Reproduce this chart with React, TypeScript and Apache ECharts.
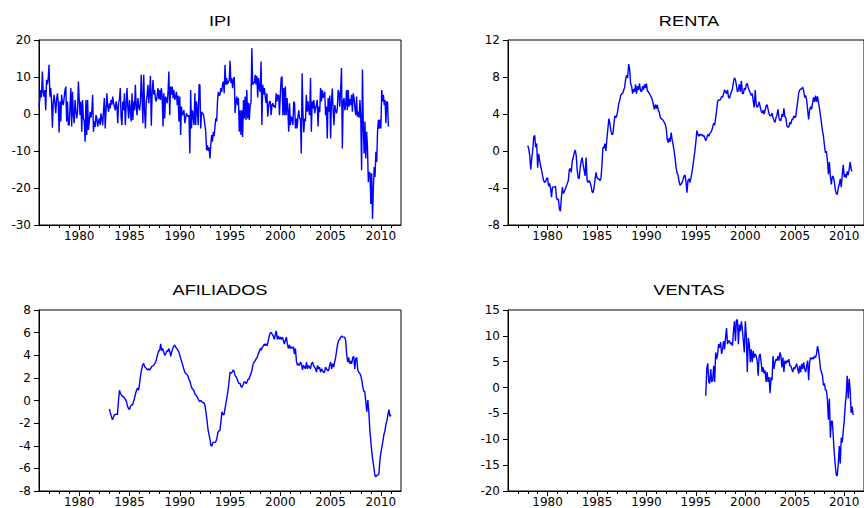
import React, { useEffect, useRef } from "react";
import * as echarts from "echarts";

// IPI: monthly values starting January 1976
const ipiStart = 1976;
const ipiStep = 1 / 12;
const ipi = [
  2, 4, 6.5, 4.5, 11.5, 6, 4.7, 6.5, 1, 9.2, 8, 9.7,
  13.3, 4.7, 7, 3.4, -3.7, 2.9, 5.2, 3, 0.2, 4, 5.6, 3,
  -5, 3.4, -2, 5.2, 3, 2.4, 4.3, 6.5, 7.4, -2, 3.4, -3,
  -3, 2, 7, -3.4, 6, -0.3, -2.5, 3.8, 1, -1.2, 0.6, 8.8,
  4, -0.3, 3.4, -4.8, 3.8, -1.2, -2, -7.5, 3.8, -5.7, 3.8, -4.3,
  -2, 0.6, -1, 0.6, 5.2, -4.8, -2, -3.5, -0.3, -1, -3.4, -2,
  -1.2, -3, 0.2, -1.2, -3, 1, 4.3, -3.9, 1, 5.6, 2, 0.6,
  2.9, 1.5, 3.8, 2.5, 4.7, 3, 2, 1, 3.4, 2, -2.5, 3,
  4, 7, -1, -3, 3.4, 1, 5.6, -3, 2, 7, 2, -1.2,
  3.8, 1, -2, 5.6, -1.6, 3.4, 1, 7.9, 2, -0.3, 4.3, 2,
  1, 3, 10.6, 5, -2.5, 10.6, 1, -3.9, 3.4, 5, 7.9, 2.9,
  6, 10.3, -3.2, 5.6, 9.2, 5.2, 6.5, 4, 3.4, 5, 7, 4,
  6.5, 3.8, 7, 4.7, -3.4, 5.6, -1.2, 4.7, 4, 2.9, 6, 11.5,
  -0.3, 7.4, 5.2, 7.4, 4.3, 6.5, 3.8, 4.7, 6, 2.4, 5, -2,
  4.7, -5.7, 2, -0.3, 0.2, 1, -2.5, -1.2, 0.2, -0.5, -0.7, -0.3,
  -10.7, 6.5, -3.9, 1, -0.3, -3, 5.6, -3, 3.4, 1, -3, 7.9,
  7.9, -3.9, 0.6, 0.2, 0, -1.2, -3, -4.8, -9.8, -8.4, -10, -9,
  -12, -8.4, -5.7, -7.5, -4.8, -6, -3.4, -1.2, -2, 3.4, 6, 5,
  5.2, 7, 6, 7.9, 8.8, 5.6, 13.3, 7.9, 9.7, 8, 8.8, 9,
  14.4, 8.4, 9.7, 7, 9.2, 10, 0.3, 3.4, 4.7, 2.4, 4.3, -4.8,
  1, -5.7, 1, -6.2, 3.8, -1.2, 4.7, -1.6, 6.5, -1.2, 3, -1.6,
  2.4, 3, 17.8, 7.9, 8.4, 8.4, 10.6, 7.9, 10.3, 4.5, 9.7, 7,
  6, 14.2, -3, 7.9, 5.2, 7, 4.7, 2.9, 5.6, -0.7, 2, 3.4,
  3.4, -0.3, 2.4, 2.9, 2, 2.4, 1.6, 5.6, 3.4, 5.2, 5, -0.3,
  5.2, 9.7, 10.1, -0.3, 7, -0.3, 7.4, -0.3, 4.3, 1, -4.8, 2.9,
  -3, -0.7, -1.2, -3, 3.4, 2.9, -3.9, -1.2, -3.9, -0.7, 1, -1.2,
  -1.2, -10.7, 11, 0.2, -5, -1.2, -2, 5.2, 0.6, 3.4, 1, -0.3,
  9.7, -4.8, 3.4, 1.5, 3.8, 0.2, 1.5, 2.4, 3.8, -3.4, 2, 0.5,
  7, 3.4, 6.5, 4.3, 5.2, 6, -0.3, 2, -6.6, 4.3, 0.6, 5,
  -6.6, 3.4, 6.9, 1, -3, 2.4, 1, 0.2, 1.5, 6.5, 5.6, 2,
  7, 12.4, -9.3, 3.4, 4.3, 1, 2.4, 6.5, 1, 6.5, 2, 4,
  2.4, 5.2, 0.6, 5.6, 4.3, 1.5, -0.3, 4.7, -0.7, 0.6, -1, 3.8,
  -1.2, -15.2, 12, -3, -10.7, -2, -12, -4.8, -9, -18.4, -15.7, -16,
  -24.3, -16, -28.4, -20.2, -14.3, -17, -10.2, -13, -4.8, -1.6, -4, -1.5,
  -3.9, 6.5, 3.4, 5.2, 2.4, 3.8, -2.5, 3.4, 3, -3.4,
];

// RENTA: values every tenth of a year starting 1978.0
const rentaStart = 1978;
const rentaStep = 0.1;
const renta = [
  0.6, 0.2, -0.5, -2.0, -0.8, 0.0, 1.5, 1.7, 0.4, 0.8,
  -1.8, -0.3, -1.0, -1.6, -2.1, -2.7, -3.2, -3.4, -3.3, -3.0,
  -2.9, -3.8, -3.5, -4.0, -5.0, -3.9, -3.9, -3.9, -3.8, -5.0,
  -5.3, -5.2, -6.3, -6.5, -5.0, -3.9, -4.6, -4.4, -4.1, -3.8,
  -3.5, -3.2, -2.0, -1.9, -2.3, -1.1, -0.7, -0.2, 0.1, -0.5,
  -2.1, -2.9, -3.0, -1.8, -1.1, -0.7, -1.5, -2.1, -2.7, -0.7,
  -3.2, -3.4, -3.2, -3.4, -3.8, -4.4, -4.5, -4.0, -3.1, -2.3,
  -2.9, -3.0, -3.0, -3.2, -3.0, -1.5, 0.4, 0.3, 0.8, 0.0,
  1.3, 2.4, 3.5, 3.0, 2.2, 1.8, 1.8, 2.8, 3.8, 3.6,
  3.8, 4.4, 5.1, 5.5, 6.0, 6.2, 6.2, 6.6, 6.9, 7.8,
  8.2, 7.9, 9.4, 8.9, 7.3, 7.0, 6.2, 6.7, 6.4, 7.2,
  6.2, 7.0, 6.6, 7.3, 6.5, 6.4, 7.0, 6.6, 7.2, 6.8,
  7.3, 6.5, 6.4, 6.2, 6.0, 5.8, 5.5, 5.0, 4.5, 5.0,
  4.6, 5.0, 4.4, 4.2, 3.6, 3.5, 3.4, 3.3, 3.1, 2.9,
  2.4, 1.3, 0.9, 1.4, 1.0, 2.0, 1.2, 0.7, 0.0, -0.8,
  -1.8, -2.4, -2.6, -3.3, -3.7, -3.6, -3.4, -3.1, -2.7, -2.6,
  -3.3, -4.5, -3.2, -3.0, -3.4, -2.9, -2.3, -1.6, -0.8, 0.0,
  1.0, 2.2, 1.8, 1.6, 1.8, 1.7, 1.8, 1.6, 1.7, 1.4,
  1.1, 1.4, 1.8, 1.6, 1.9, 2.0, 2.2, 2.6, 3.0, 2.8,
  3.6, 4.4, 5.4, 5.5, 5.5, 5.6, 5.9, 5.8, 6.2, 6.6,
  6.4, 6.2, 6.6, 5.8, 5.7, 6.1, 6.4, 6.7, 7.5, 7.9,
  7.7, 7.1, 6.4, 6.6, 7.2, 6.4, 7.6, 6.2, 6.2, 6.8,
  6.6, 7.2, 7.3, 6.8, 6.5, 6.3, 6.0, 6.2, 5.4, 4.7,
  6.6, 5.0, 4.7, 4.9, 5.3, 4.8, 4.3, 4.1, 4.4, 4.0,
  4.4, 4.9, 5.0, 4.5, 4.0, 3.8, 3.8, 4.1, 3.6, 3.3,
  3.1, 3.6, 3.9, 4.5, 3.6, 3.3, 3.3, 4.0, 3.7, 4.6,
  3.7, 3.6, 2.7, 2.6, 2.6, 3.1, 2.9, 3.4, 3.4, 3.8,
  3.6, 3.7, 4.6, 5.4, 6.3, 6.6, 6.7, 6.7, 6.9, 6.5,
  5.8, 6.0, 5.5, 4.5, 3.4, 4.4, 4.8, 4.5, 5.2, 5.8,
  5.3, 6.0, 5.3, 5.9, 5.2, 4.6, 3.8, 3.0, 2.2, 1.6,
  0.6, -0.2, 0.0, -1.0, -2.5, -1.2, -2.8, -3.6, -2.7, -2.8,
  -3.3, -4.2, -4.6, -4.7, -4.0, -3.6, -3.0, -3.9, -2.6, -1.5,
  -2.8, -2.5, -2.9, -2.2, -2.6, -2.0, -1.2, -2.0, -2.2,
];

// AFILIADOS: values every tenth of a year starting 1983.0
const afiStart = 1983;
const afiStep = 0.1;
const afiliados = [
  -0.75, -1.1, -1.4, -1.7, -1.5, -1.25, -1.25, -1.2, -1.25, -0.1,
  0.9, 0.6, 0.5, 0.35, 0.35, 0.2, 0.1, -0.1, -0.5, -0.7,
  -0.8, -0.5, -0.4, -0.4, -0.1, 0.2, 0.6, 0.9, 1.1, 0.9,
  1.5, 2.2, 2.7, 3.1, 3.3, 3.0, 2.9, 2.8, 2.7, 2.8,
  2.7, 2.8, 3.0, 3.05, 3.1, 3.25, 3.4, 3.7, 4.1, 4.4,
  4.4, 5.0, 4.4, 4.6, 4.3, 4.0, 4.1, 4.4, 4.3, 4.6,
  4.35, 3.9, 4.3, 4.6, 4.8, 4.9, 4.7, 4.6, 4.45, 4.3,
  4.0, 3.7, 3.4, 3.1, 2.8, 2.5, 2.4, 2.3, 2.2, 1.9,
  1.7, 1.4, 1.1, 1.0, 0.9, 0.6, 0.5, 0.35, 0.2, 0.0,
  -0.1, 0.0, -0.1, -0.2, -0.2, -0.4, -1.0, -1.7, -2.5, -3.0,
  -3.4, -4.0, -4.0, -3.7, -3.7, -3.7, -3.6, -3.3, -2.8, -2.7,
  -2.6, -1.8, -1.0, -1.25, -1.25, -0.7, -0.2, 0.35, 0.9, 1.65,
  2.5, 2.4, 2.5, 2.7, 2.6, 2.2, 2.1, 1.9, 1.65, 1.5,
  1.5, 1.2, 1.2, 1.4, 1.65, 1.65, 1.5, 1.65, 1.9, 1.9,
  2.2, 2.4, 2.8, 3.25, 3.4, 3.5, 3.7, 3.8, 4.1, 4.3,
  4.6, 4.45, 4.7, 4.8, 5.0, 4.85, 5.0, 4.85, 5.3, 5.7,
  6.0, 6.0, 5.85, 5.7, 5.4, 5.85, 6.15, 5.4, 5.7, 5.4,
  5.6, 5.4, 5.6, 5.3, 5.0, 5.3, 5.6, 5.0, 4.6, 4.9,
  4.6, 4.75, 4.6, 4.75, 4.1, 4.6, 3.5, 3.1, 3.25, 3.1,
  3.4, 3.25, 2.7, 3.1, 2.95, 2.8, 3.4, 2.8, 3.1, 2.95,
  2.8, 3.25, 3.4, 3.1, 2.95, 2.8, 2.5, 3.1, 2.8, 2.95,
  2.5, 2.8, 2.65, 2.5, 2.5, 2.95, 2.8, 2.65, 2.65, 3.1,
  3.4, 2.8, 3.25, 2.95, 3.4, 3.8, 4.4, 5.0, 5.3, 5.4,
  5.6, 5.7, 5.6, 5.6, 5.6, 5.3, 4.1, 3.4, 3.8, 3.25,
  3.5, 3.25, 3.8, 3.9, 2.8, 3.7, 3.8, 2.7, 2.5, 2.4,
  2.2, 1.8, 1.2, 0.8, 0.8, -0.1, -1.0, 0.05, -1.0, -2.6,
  -3.6, -4.6, -5.3, -5.9, -6.6, -6.75, -6.6, -6.6, -6.5, -5.3,
  -4.6, -4.1, -3.6, -3.0, -2.7, -2.1, -1.8, -1.25, -0.8, -1.4, -1.25,
];

// VENTAS: values every tenth of a year starting 1996.0
const ventasStart = 1996;
const ventasStep = 0.1;
const ventas = [
  -1.6, 3.6, 4.7, 1.1, 0.8, 3.6, 1.1, 1.4, 4.2, 1.1,
  6.8, 5.5, 6.5, 8.4, 7.7, 8.8, 6.5, 7.4, 9.0, 7.4,
  9.6, 11.5, 8.4, 9.0, 9.0, 8.4, 8.7, 8.1, 10.9, 12.8,
  9.0, 13.1, 13.1, 8.4, 12.2, 10.9, 12.8, 11.2, 9.0, 6.8,
  12.8, 9.9, 3.0, 9.6, 8.4, 4.9, 7.4, 4.9, 7.1, 5.8,
  6.5, 6.1, 5.2, 2.3, 6.1, 6.5, 4.9, 3.0, 3.9, 2.7,
  3.3, 1.1, 3.0, 1.1, 2.0, -1.1, 2.0, 1.4, 6.1, 3.6,
  4.9, 5.5, 5.2, 6.1, 5.2, 6.8, 6.1, 3.9, 5.8, 3.0,
  5.2, 4.6, 5.2, 4.9, 5.5, 4.2, 4.2, 3.6, 3.0, 3.9,
  3.6, 4.2, 4.6, 3.6, 2.7, 4.2, 3.0, 4.6, 3.6, 4.9,
  3.6, 3.0, 4.2, 5.2, 1.4, 4.9, 5.8, 5.5, 5.8, 5.5,
  6.1, 5.8, 6.5, 8.0, 7.1, 5.5, 3.6, 3.0, 2.3, 0.4,
  0.8, -0.5, -0.5, -2.4, -6.2, -2.1, -9.7, -6.5, -6.5, -9.7,
  -12.8, -15.1, -17.0, -17.0, -14.7, -11.3, -14.7, -9.7, -10.6, -8.4,
  -6.5, -3.4, -1.5, 2.3, -2.1, 1.7, -0.5, -4.9, -3.7, -5.3,
];

const xMin = 1976;
const xMax = 2012;
const labelYears = [1980, 1985, 1990, 1995, 2000, 2005, 2010];
const minorYears = [
  1977, 1978, 1979, 1980, 1981, 1982, 1983, 1984, 1985, 1986, 1987, 1988,
  1989, 1990, 1991, 1992, 1993, 1994, 1995, 1996, 1997, 1998, 1999, 2000,
  2001, 2002, 2003, 2004, 2005, 2006, 2007, 2008, 2009, 2010, 2011,
];

const titles = ["IPI", "RENTA", "AFILIADOS", "VENTAS"];
const yMins = [-30, -8, -8, -20];
const yMaxs = [20, 12, 8, 15];
const yIntervals = [10, 4, 2, 5];

function toPairs(start: number, step: number, vals: number[]) {
  return vals.map((v, i) => [Number((start + i * step).toFixed(4)), v]);
}

export default function App() {
  const ref = useRef<HTMLDivElement>(null);

  useEffect(() => {
    if (!ref.current) return;
    const chart = echarts.init(ref.current, undefined, { renderer: "svg" });

    const seriesData = [
      toPairs(ipiStart, ipiStep, ipi),
      toPairs(rentaStart, rentaStep, renta),
      toPairs(afiStart, afiStep, afiliados),
      toPairs(ventasStart, ventasStep, ventas),
    ];

    const lefts = [39, 508, 39, 508];
    const tops = [40, 40, 310, 310];
    const W = 362;
    const H = 185;
    const font = "DejaVu Sans";

    const grid: any[] = [];
    const xAxis: any[] = [];
    const yAxis: any[] = [];
    const series: any[] = [];
    const graphic: any[] = [];

    for (let i = 0; i < 4; i++) {
      grid.push({
        left: lefts[i],
        top: tops[i],
        width: W,
        height: i < 2 ? H : H - 1,
        show: true,
        borderColor: "#000",
        borderWidth: 1,
        backgroundColor: "transparent",
      });
      xAxis.push({
        type: "value",
        gridIndex: i,
        position: "bottom",
        min: xMin,
        max: xMax,
        axisLine: { show: true, onZero: false, lineStyle: { color: "#000", width: 1 } },
        axisTick: { show: true, customValues: labelYears, length: 5, lineStyle: { color: "#000" } },
        axisLabel: {
          customValues: labelYears,
          formatter: (v: number) => String(v),
          margin: 5,
          color: "#000",
          fontFamily: font,
          fontSize: 12,
        },
        splitLine: { show: false },
      });
      xAxis.push({
        type: "value",
        gridIndex: i,
        position: "bottom",
        min: xMin,
        max: xMax,
        axisLine: { show: false, onZero: false },
        axisTick: { show: true, customValues: minorYears, length: 3, lineStyle: { color: "#000" } },
        axisLabel: { show: false },
        splitLine: { show: false },
      });
      yAxis.push({
        type: "value",
        gridIndex: i,
        min: yMins[i],
        max: yMaxs[i],
        interval: yIntervals[i],
        axisLine: { show: true, onZero: false, lineStyle: { color: "#000", width: 1 } },
        axisTick: { show: true, length: 5, lineStyle: { color: "#000" } },
        axisLabel: { margin: 8, color: "#000", fontFamily: font, fontSize: 12 },
        splitLine: { show: false },
      });
      series.push({
        type: "line",
        xAxisIndex: i * 2,
        yAxisIndex: i,
        data: seriesData[i],
        showSymbol: false,
        symbol: "none",
        lineStyle: { color: "#0000ff", width: 1.4 },
      });
      graphic.push({
        type: "text",
        x: lefts[i] + W / 2,
        y: i < 2 ? 21 : 290,
        scaleX: 1.3,
        style: {
          text: titles[i],
          fontFamily: "Liberation Sans",
          fontSize: 14,
          fill: "#000",
          align: "center",
          verticalAlign: "middle",
          textAlign: "center",
          textVerticalAlign: "middle",
        },
      });
    }

    chart.setOption({
      animation: false,
      backgroundColor: "#fff",
      grid,
      xAxis,
      yAxis,
      series,
      graphic,
    });

    return () => chart.dispose();
  }, []);

  return (
    <div
      ref={ref}
      style={{ position: "absolute", left: 0, top: 0, width: 864, height: 508 }}
    />
  );
}
